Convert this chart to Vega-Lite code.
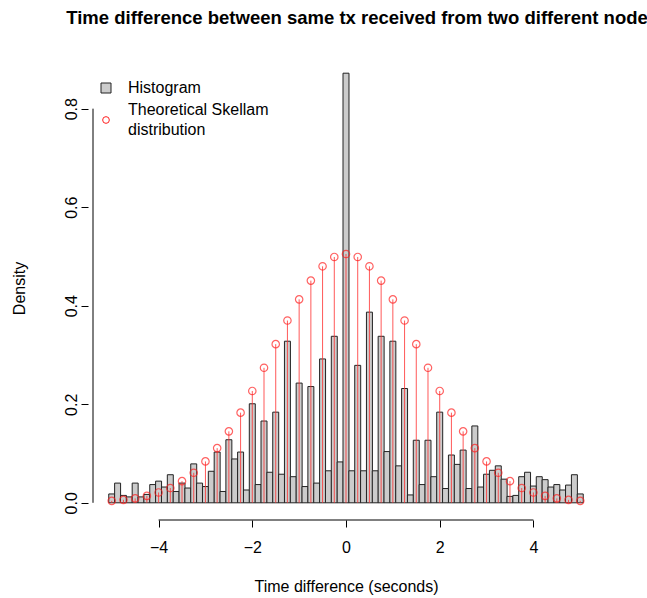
{
  "$schema": "https://vega.github.io/schema/vega-lite/v6.json",
  "width": 516,
  "height": 464,
  "autosize": "none",
  "padding": {"left": 88, "top": 56, "right": 43, "bottom": 78},
  "background": "white",
  "config": {
    "font": "Liberation Sans",
    "view": {"stroke": null},
    "axis": {"grid": false, "domain": false, "tickColor": "black", "tickSize": 7, "labelColor": "black", "titleColor": "black", "labelFontSize": 16, "titleFontSize": 16, "titleFontWeight": "normal", "labelFont": "Liberation Sans", "titleFont": "Liberation Sans"}
  },
  "title": {
    "text": "Time difference between same tx received from two different node",
    "fontSize": 18.5,
    "fontWeight": "bold",
    "color": "black",
    "anchor": "middle",
    "dx": 11,
    "offset": 29
  },
  "datasets": {
    "hist": [
      {"x": -5.000, "density": 0.018}, {"x": -4.875, "density": 0.040}, {"x": -4.750, "density": 0.015}, {"x": -4.625, "density": 0.012},
      {"x": -4.500, "density": 0.040}, {"x": -4.375, "density": 0.012}, {"x": -4.250, "density": 0.017}, {"x": -4.125, "density": 0.037},
      {"x": -4.000, "density": 0.044}, {"x": -3.875, "density": 0.032}, {"x": -3.750, "density": 0.057}, {"x": -3.625, "density": 0.023},
      {"x": -3.500, "density": 0.040}, {"x": -3.375, "density": 0.030}, {"x": -3.250, "density": 0.079}, {"x": -3.125, "density": 0.040},
      {"x": -3.000, "density": 0.033}, {"x": -2.875, "density": 0.064}, {"x": -2.750, "density": 0.103}, {"x": -2.625, "density": 0.023},
      {"x": -2.500, "density": 0.128}, {"x": -2.375, "density": 0.089}, {"x": -2.250, "density": 0.103}, {"x": -2.125, "density": 0.026},
      {"x": -2.000, "density": 0.201}, {"x": -1.875, "density": 0.037}, {"x": -1.750, "density": 0.166}, {"x": -1.625, "density": 0.062},
      {"x": -1.500, "density": 0.184}, {"x": -1.375, "density": 0.058}, {"x": -1.250, "density": 0.328}, {"x": -1.125, "density": 0.053},
      {"x": -1.000, "density": 0.243}, {"x": -0.875, "density": 0.033}, {"x": -0.750, "density": 0.236}, {"x": -0.625, "density": 0.040},
      {"x": -0.500, "density": 0.292}, {"x": -0.375, "density": 0.065}, {"x": -0.250, "density": 0.338}, {"x": -0.125, "density": 0.083},
      {"x": 0.000, "density": 0.872},
      {"x": 0.125, "density": 0.065}, {"x": 0.250, "density": 0.279}, {"x": 0.375, "density": 0.065}, {"x": 0.500, "density": 0.387},
      {"x": 0.625, "density": 0.065}, {"x": 0.750, "density": 0.338}, {"x": 0.875, "density": 0.104}, {"x": 1.000, "density": 0.328},
      {"x": 1.125, "density": 0.075}, {"x": 1.250, "density": 0.232}, {"x": 1.375, "density": 0.016}, {"x": 1.500, "density": 0.127},
      {"x": 1.625, "density": 0.037}, {"x": 1.750, "density": 0.127}, {"x": 1.875, "density": 0.053}, {"x": 2.000, "density": 0.184},
      {"x": 2.125, "density": 0.029}, {"x": 2.250, "density": 0.097}, {"x": 2.375, "density": 0.078}, {"x": 2.500, "density": 0.107},
      {"x": 2.625, "density": 0.029}, {"x": 2.750, "density": 0.156}, {"x": 2.875, "density": 0.032}, {"x": 3.000, "density": 0.058},
      {"x": 3.125, "density": 0.066}, {"x": 3.250, "density": 0.075}, {"x": 3.375, "density": 0.048}, {"x": 3.500, "density": 0.013},
      {"x": 3.625, "density": 0.015}, {"x": 3.750, "density": 0.053}, {"x": 3.875, "density": 0.062}, {"x": 4.000, "density": 0.034},
      {"x": 4.125, "density": 0.053}, {"x": 4.250, "density": 0.047}, {"x": 4.375, "density": 0.032}, {"x": 4.500, "density": 0.037},
      {"x": 4.625, "density": 0.026}, {"x": 4.750, "density": 0.036}, {"x": 4.875, "density": 0.057}, {"x": 5.000, "density": 0.018}
    ],
    "skellam": [
      {"x": -5.00, "p": 0.004}, {"x": -4.75, "p": 0.006}, {"x": -4.50, "p": 0.009}, {"x": -4.25, "p": 0.014},
      {"x": -4.00, "p": 0.021}, {"x": -3.75, "p": 0.030}, {"x": -3.50, "p": 0.044}, {"x": -3.25, "p": 0.061},
      {"x": -3.00, "p": 0.084}, {"x": -2.75, "p": 0.111}, {"x": -2.50, "p": 0.145}, {"x": -2.25, "p": 0.183},
      {"x": -2.00, "p": 0.227}, {"x": -1.75, "p": 0.274}, {"x": -1.50, "p": 0.322}, {"x": -1.25, "p": 0.370},
      {"x": -1.00, "p": 0.413}, {"x": -0.75, "p": 0.451}, {"x": -0.50, "p": 0.480}, {"x": -0.25, "p": 0.499},
      {"x": 0.00, "p": 0.505},
      {"x": 0.25, "p": 0.499}, {"x": 0.50, "p": 0.480}, {"x": 0.75, "p": 0.451}, {"x": 1.00, "p": 0.413},
      {"x": 1.25, "p": 0.370}, {"x": 1.50, "p": 0.322}, {"x": 1.75, "p": 0.274}, {"x": 2.00, "p": 0.227},
      {"x": 2.25, "p": 0.183}, {"x": 2.50, "p": 0.145}, {"x": 2.75, "p": 0.111}, {"x": 3.00, "p": 0.084},
      {"x": 3.25, "p": 0.061}, {"x": 3.50, "p": 0.044}, {"x": 3.75, "p": 0.030}, {"x": 4.00, "p": 0.021},
      {"x": 4.25, "p": 0.014}, {"x": 4.50, "p": 0.009}, {"x": 4.75, "p": 0.006}, {"x": 5.00, "p": 0.004}
    ]
  },
  "layer": [
    {
      "data": {"values": [{"from": -4, "to": 4}]},
      "mark": {"type": "rule", "color": "black", "strokeWidth": 1},
      "encoding": {
        "x": {"field": "from", "type": "quantitative", "scale": {"domain": [-5.4, 5.4], "nice": false, "zero": false}},
        "x2": {"field": "to"},
        "y": {"datum": -0.0349, "type": "quantitative"}
      }
    },
    {
      "data": {"values": [{"from": 0, "to": 0.8}]},
      "mark": {"type": "rule", "color": "black", "strokeWidth": 1},
      "encoding": {
        "x": {"datum": -5.4, "type": "quantitative"},
        "y": {"field": "from", "type": "quantitative"},
        "y2": {"field": "to"}
      }
    },
    {
      "data": {"name": "hist"},
      "transform": [{"calculate": "'Histogram'", "as": "series"}],
      "mark": {"type": "bar", "width": 5.97, "strokeWidth": 1},
      "encoding": {
        "x": {
          "field": "x", "type": "quantitative",
          "scale": {"domain": [-5.4, 5.4], "nice": false, "zero": false},
          "axis": {"values": [-4, -2, 0, 2, 4], "title": "Time difference (seconds)", "labelPadding": 12, "titlePadding": 23, "labelFlush": false}
        },
        "y": {
          "field": "density", "type": "quantitative",
          "scale": {"domain": [-0.0349, 0.9069], "nice": false, "zero": false},
          "axis": {"values": [0, 0.2, 0.4, 0.6, 0.8], "format": ".1f", "title": "Density", "labelAngle": -90, "labelAlign": "center", "labelBaseline": "bottom", "labelPadding": 2, "titlePadding": 36, "labelFlush": false}
        },
        "y2": {"datum": 0},
        "fill": {
          "field": "series", "type": "nominal",
          "scale": {"domain": ["Histogram", "Theoretical Skellam distribution"], "range": ["#cccccc", "transparent"]},
          "legend": {
            "orient": "none", "legendX": 10, "legendY": 24, "title": null,
            "labelFontSize": 16, "labelColor": "black", "labelFont": "Liberation Sans",
            "labelOffset": 14, "labelLimit": 400, "rowPadding": 6, "padding": 0,
            "labelExpr": "datum.label == 'Theoretical Skellam distribution' ? ['Theoretical Skellam', 'distribution'] : datum.label",
            "symbolStrokeWidth": 1,
            "encode": {
              "symbols": {"update": {"size": {"signal": "datum.value == 'Histogram' ? 100 : 45"}}},
              "labels": {"update": {"lineHeight": {"value": 20}, "dy": {"signal": "datum.value == 'Histogram' ? 0 : -10"}}}
            }
          }
        },
        "stroke": {
          "field": "series", "type": "nominal",
          "scale": {"domain": ["Histogram", "Theoretical Skellam distribution"], "range": ["#222222", "#ff2020"]}
        }
      }
    },
    {
      "data": {"name": "skellam"},
      "mark": {"type": "rule", "color": "#ff3030", "strokeWidth": 1, "opacity": 0.8},
      "encoding": {
        "x": {"field": "x", "type": "quantitative"},
        "y": {"field": "p", "type": "quantitative"},
        "y2": {"datum": 0}
      }
    },
    {
      "data": {"name": "skellam"},
      "transform": [{"calculate": "'Theoretical Skellam distribution'", "as": "series"}],
      "mark": {"type": "point", "filled": false, "size": 55, "strokeWidth": 1.2},
      "encoding": {
        "x": {"field": "x", "type": "quantitative"},
        "y": {"field": "p", "type": "quantitative"},
        "shape": {
          "field": "series", "type": "nominal",
          "scale": {"domain": ["Histogram", "Theoretical Skellam distribution"], "range": ["square", "circle"]}
        },
        "fill": {"field": "series", "type": "nominal"},
        "stroke": {"field": "series", "type": "nominal"}
      }
    }
  ]
}
